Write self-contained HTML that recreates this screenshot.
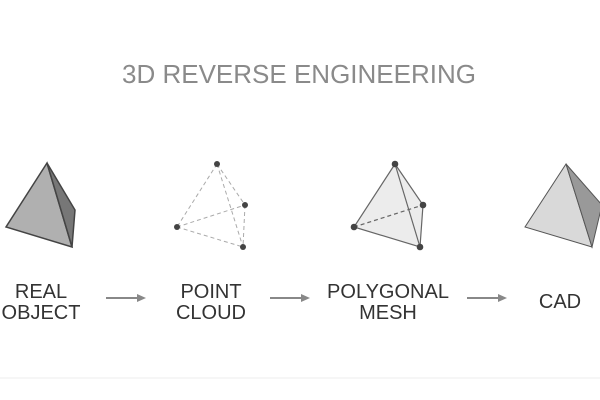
<!DOCTYPE html>
<html><head><style>
html,body{margin:0;padding:0;background:#fff;width:600px;height:400px;overflow:hidden}
</style></head><body>
<svg width="600" height="400" viewBox="0 0 600 400" xmlns="http://www.w3.org/2000/svg" font-family="Liberation Sans, sans-serif">
<text x="299" y="83" text-anchor="middle" font-size="26" fill="#8a8a8a">3D REVERSE ENGINEERING</text>
<!-- real object -->
<polygon points="47,163 6,227 72,247" fill="#b0b0b0" stroke="#444" stroke-width="1.5"/>
<polygon points="47,163 75,210 72,247" fill="#777" stroke="#444" stroke-width="1.5"/>
<!-- point cloud -->
<g stroke="#aaa" stroke-width="1" stroke-dasharray="4,3" fill="none">
<line x1="217" y1="164" x2="177" y2="227"/><line x1="217" y1="164" x2="245" y2="205"/>
<line x1="217" y1="164" x2="243" y2="247"/><line x1="177" y1="227" x2="245" y2="205"/>
<line x1="177" y1="227" x2="243" y2="247"/><line x1="245" y1="205" x2="243" y2="247"/>
</g>
<g fill="#444"><circle cx="217" cy="164" r="3"/><circle cx="245" cy="205" r="3"/><circle cx="177" cy="227" r="3"/><circle cx="243" cy="247" r="3"/></g>
<!-- mesh -->
<polygon points="395,164 354,227 420,247 423,205" fill="#ececec" stroke="#666" stroke-width="1.2"/>
<line x1="395" y1="164" x2="420" y2="247" stroke="#666" stroke-width="1.2"/>
<line x1="354" y1="227" x2="423" y2="205" stroke="#666" stroke-width="1.2" stroke-dasharray="4,3"/>
<g fill="#444"><circle cx="395" cy="164" r="3.3"/><circle cx="423" cy="205" r="3.3"/><circle cx="354" cy="227" r="3.3"/><circle cx="420" cy="247" r="3.3"/></g>
<!-- CAD -->
<polygon points="566,164 525,227 592,247" fill="#d9d9d9" stroke="#555" stroke-width="1"/>
<polygon points="566,164 602,205 592,247" fill="#999" stroke="#555" stroke-width="1"/>
<!-- labels -->
<g font-size="20" fill="#333" text-anchor="middle">
<text x="41" y="298">REAL</text><text x="41" y="319">OBJECT</text>
<text x="211" y="298">POINT</text><text x="211" y="319">CLOUD</text>
<text x="388" y="298">POLYGONAL</text><text x="388" y="319">MESH</text>
<text x="560" y="308">CAD</text>
</g>
<g stroke="#888" stroke-width="2"><line x1="106" y1="298" x2="138" y2="298"/><line x1="270" y1="298" x2="302" y2="298"/><line x1="467" y1="298" x2="499" y2="298"/></g>
<g fill="#888"><polygon points="146,298 137,294 137,302"/><polygon points="310,298 301,294 301,302"/><polygon points="507,298 498,294 498,302"/></g>
<line x1="0" y1="378" x2="600" y2="378" stroke="#eee" stroke-width="1"/>
</svg>
</body></html>
